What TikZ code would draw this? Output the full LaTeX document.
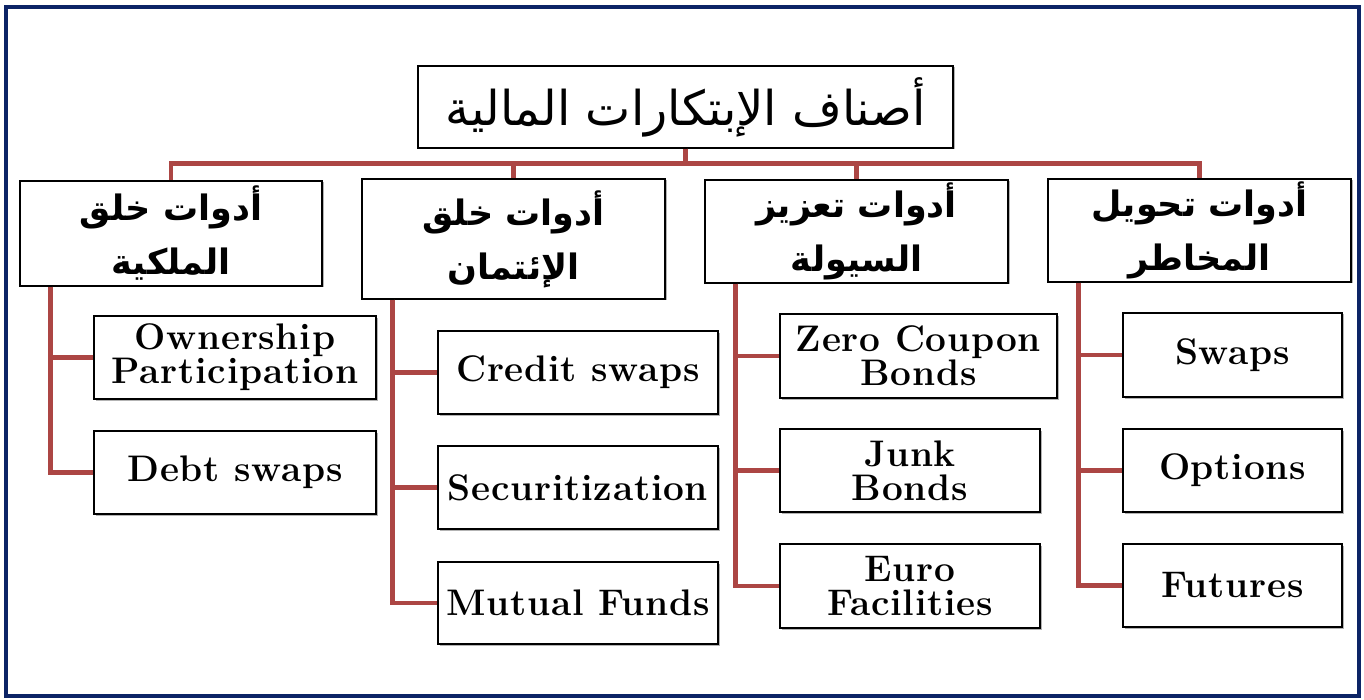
\documentclass[tikz,border=0pt]{standalone}
\usepackage{fontspec}
\usepackage{tikz}
\usetikzlibrary{shadows}
\newfontfamily\arabicfont[Script=Arabic]{DejaVu Sans}
\newfontfamily\latinfont[LetterSpace=2]{Latin Modern Roman}
\TeXXeTstate=1
\definecolor{frameblue}{HTML}{0C2466}
\definecolor{linkred}{HTML}{AC4644}

\begin{document}
\begin{tikzpicture}[x=1pt,y=-1pt,
        box/.style={draw=black,line width=1.5pt,fill=white,inner sep=0pt,
            drop shadow={shadow xshift=1.5pt,shadow yshift=-1.5pt,fill=black!50,opacity=.6}},
        artext/.style={box,align=center,font=\arabicfont\bfseries\fontsize{35}{54}\selectfont},
        leaf/.style={box,align=center,font=\latinfont\bfseries\fontsize{37}{34}\selectfont},
        link/.style={draw=linkred,line width=4.5pt}]
        \useasboundingbox (0,0) rectangle (1364,700);
        \draw[frameblue,line width=4pt] (5.5,7) rectangle (1358.5,696);

        % top
        \node[box,minimum width=535pt,minimum height=82pt,font=\arabicfont\fontsize{48}{50}\selectfont] (top) at (685.5,107) {\beginR أصناف الإبتكارات المالية\endR};

        % second row
        \node[artext,minimum width=302pt,minimum height=105pt] (own) at (171,233.5) {\beginR أدوات خلق\endR\\\beginR الملكية\endR};
        \node[artext,minimum width=303pt,minimum height=120pt] (credit) at (513.5,239) {\beginR أدوات خلق\endR\\\beginR الإئتمان\endR};
        \node[artext,minimum width=303pt,minimum height=103pt] (liquid) at (856.5,231.5) {\beginR أدوات تعزيز\endR\\\beginR السيولة\endR};
        \node[artext,minimum width=303pt,minimum height=103pt] (risk) at (1199.5,230.5) {\beginR أدوات تحويل\endR\\\beginR المخاطر\endR};

        % leaves
        \node[leaf,minimum width=282pt,minimum height=83pt] (ownpart) at (235,357.5) {Ownership\\Participation};
        \node[leaf,minimum width=282pt,minimum height=83pt] (debtsw) at (235,472.5) {Debt swaps};
        \node[leaf,minimum width=280pt,minimum height=83pt] (creditsw) at (578,372.5) {Credit swaps};
        \node[leaf,minimum width=280pt,minimum height=83pt] (secur) at (578,487.5) {Securitization};
        \node[leaf,minimum width=280pt,minimum height=82pt] (mutual) at (578,603) {Mutual Funds};
        \node[leaf,minimum width=277pt,minimum height=84pt] (zero) at (918.5,356) {Zero Coupon\\Bonds};
        \node[leaf,minimum width=260pt,minimum height=83pt] (junk) at (910,470.5) {Junk\\Bonds};
        \node[leaf,minimum width=260pt,minimum height=84pt] (euro) at (910,586) {Euro\\Facilities};
        \node[leaf,minimum width=219pt,minimum height=84pt] (swaps) at (1232.5,355) {Swaps};
        \node[leaf,minimum width=219pt,minimum height=83pt] (options) at (1232.5,470.5) {Options};
        \node[leaf,minimum width=219pt,minimum height=83pt] (futures) at (1232.5,585.5) {Futures};

        % connectors
        \foreach \m in {own,credit,liquid,risk}
            \draw[link] (top.south) -- ++(0,15) -| (\m.north);
        \foreach \m/\l in {own/ownpart,own/debtsw,credit/creditsw,credit/secur,credit/mutual,
                liquid/zero,liquid/junk,liquid/euro,risk/swaps,risk/options,risk/futures}
            \draw[link] (\m.south west) ++(31,0) |- (\l.west);
\end{tikzpicture}
\end{document}
